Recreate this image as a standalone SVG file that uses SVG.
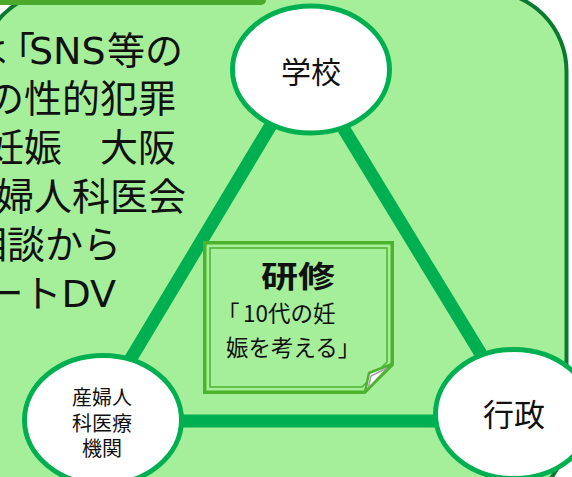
<svg xmlns="http://www.w3.org/2000/svg" width="572" height="477" viewBox="0 0 572 477">
  <defs>
    <style>
      .jp { font-family: "Noto Sans CJK JP", "Noto Sans", sans-serif; fill: #111; }
      .big { font-family: "DejaVu Sans", "Noto Sans CJK JP", sans-serif; font-size: 38px; fill: #111; }
      .node { fill: #ffffff; stroke: #00B050; stroke-width: 5; }
      .conn { stroke: #00B050; stroke-width: 13; stroke-linecap: butt; fill: none; }
      .card { fill: none; stroke: #4DB32F; }
    </style>
  </defs>
  <rect x="0" y="0" width="572" height="477" fill="#ffffff"/>
  <!-- panel -->
  <rect id="panel" x="-20" y="-9" width="586.5" height="520" rx="80" ry="80" fill="#A6EF9A" stroke="#0A7A30" stroke-width="4"/>
  <rect x="-20" y="-20" width="286" height="25" rx="5" ry="5" fill="#4BAA2B"/>

  <!-- left text -->
  <g id="left-text" class="big">
    <text x="-31 -3 29 53 81.5 107 145" y="64">は「SNS等の</text>
    <text x="176" y="112" text-anchor="end">の性的犯罪</text>
    <text x="176" y="161" text-anchor="end">妊娠　大阪</text>
    <text x="186" y="210" text-anchor="end">婦人科医会</text>
    <text x="121" y="258" text-anchor="end">相談から</text>
    <text x="116" y="307" text-anchor="end">ートDV</text>
  </g>

  <!-- connectors -->
  <g id="connectors">
    <line class="conn" x1="304" y1="70" x2="94" y2="420"/>
    <line class="conn" x1="308" y1="70" x2="518" y2="415"/>
    <line class="conn" x1="103" y1="421" x2="514" y2="421"/>
  </g>

  <!-- card -->
  <g id="training">
    <path d="M204.75,242.75 H392.25 V364.5 L364.5,392.25 H204.75 Z" fill="#ffffff" class="card" stroke-width="3.5"/>
    <path d="M210,248 H387 V362 L362,387 H210 Z" class="card" stroke-width="1.5"/>
    <path d="M365,392 L369,373 L392,364 Z" fill="#ffffff" stroke="#4DB32F" stroke-width="2.5" stroke-linejoin="round"/>
    <path d="M368.5,387 L371,376 L387,368" fill="none" stroke="#A0A0A0" stroke-width="1.5"/>
    <text class="jp" x="298" y="287" font-size="30" font-weight="bold" text-anchor="middle" textLength="74" lengthAdjust="spacingAndGlyphs">研修</text>
    <text class="jp" x="217 243" y="322" font-size="22.5">「10代の妊</text>
    <text class="jp" x="226" y="356" font-size="22.5">娠を考える」</text>
  </g>

  <!-- nodes -->
  <g id="school">
    <ellipse class="node" cx="311" cy="69.5" rx="78.5" ry="63.5"/>
    <text class="jp" x="311" y="83" font-size="30" text-anchor="middle">学校</text>
  </g>
  <g id="government">
    <ellipse class="node" cx="514" cy="414" rx="78.5" ry="64.5"/>
    <text class="jp" x="514" y="426" font-size="31" text-anchor="middle">行政</text>
  </g>
  <g id="obgyn">
    <ellipse class="node" cx="103" cy="420" rx="78.5" ry="64.5"/>
    <text class="jp" font-size="20" text-anchor="middle"><tspan x="102" y="405">産婦人</tspan><tspan x="102" y="431">科医療</tspan><tspan x="102" y="456">機関</tspan></text>
  </g>
</svg>
